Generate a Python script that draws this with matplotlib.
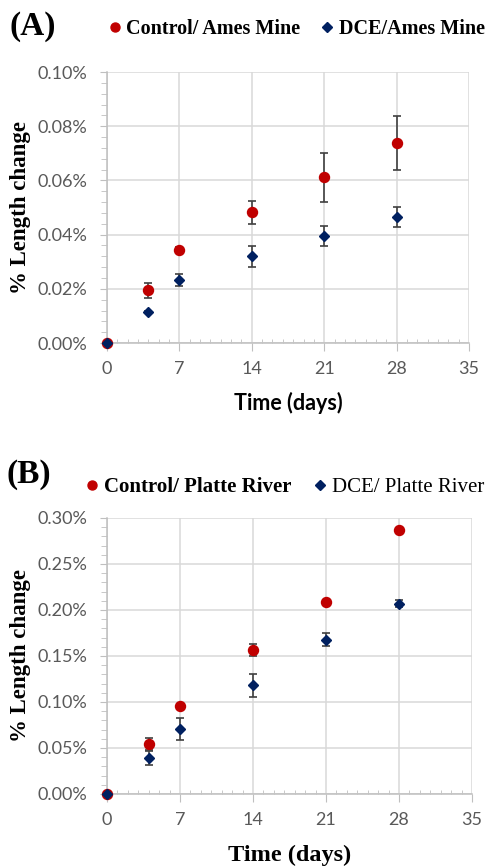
import matplotlib
matplotlib.use("Agg")
import matplotlib.pyplot as plt
from matplotlib.ticker import FuncFormatter, MultipleLocator

# Time points (days)
days = [0, 4, 7, 14, 21, 28]

# (A) Ames Mine aggregate, % length change
ames_control = [0.0, 0.0195, 0.0345, 0.0482, 0.0612, 0.0737]
ames_control_err = [0.0, 0.0028, 0.0008, 0.0041, 0.0090, 0.0100]
ames_dce = [0.0, 0.0115, 0.0234, 0.0320, 0.0394, 0.0465]
ames_dce_err = [0.0, 0.0005, 0.0022, 0.0038, 0.0037, 0.0037]

# (B) Platte River aggregate, % length change
platte_control = [0.0, 0.0545, 0.0953, 0.1560, 0.2087, 0.2873]
platte_control_err = [0.0, 0.0065, 0.0020, 0.0065, 0.0020, 0.0010]
platte_dce = [0.0, 0.0393, 0.0709, 0.1180, 0.1676, 0.2069]
platte_dce_err = [0.0, 0.0076, 0.0122, 0.0129, 0.0069, 0.0040]

x_ticks = [0, 7, 14, 21, 28, 35]

RED = "#c00000"
NAVY = "#002060"
ERR = "#404040"
GRID = "#d9d9d9"
AXIS = "#bfbfbf"
TICKTXT = "#595959"
SERIF = "Liberation Serif"
SANS = "Lato"

fig = plt.figure(figsize=(4.89, 8.68), dpi=100)


def panel(rect, ctrl, ctrl_err, dce, dce_err, ymax, ystep, yminor,
          xlabel_font, xlabel_size, xlabel_pad):
    ax = fig.add_axes(rect)
    ax.errorbar(days, ctrl, yerr=ctrl_err, fmt="o", color=RED, ms=7.2,
                ecolor=ERR, elinewidth=1.2, capsize=3.2, capthick=1.2,
                zorder=3, clip_on=False)
    ax.errorbar(days, dce, yerr=dce_err, fmt="D", color=NAVY, ms=5.2,
                ecolor=ERR, elinewidth=1.2, capsize=3.2, capthick=1.2,
                zorder=4, clip_on=False)
    ax.set_xlim(0, 35)
    ax.set_ylim(0, ymax)
    ax.set_xticks(x_ticks)
    ax.yaxis.set_major_locator(MultipleLocator(ystep))
    ax.yaxis.set_minor_locator(MultipleLocator(yminor))
    ax.xaxis.set_minor_locator(MultipleLocator(1))
    ax.yaxis.set_major_formatter(FuncFormatter(lambda v, p: f"{v:.2f}%"))
    ax.grid(True, which="major", color=GRID, lw=1.1, zorder=0)
    ax.set_axisbelow(True)
    for s in ("top", "right"):
        ax.spines[s].set_visible(False)
    for s in ("left", "bottom"):
        ax.spines[s].set_color(AXIS)
        ax.spines[s].set_linewidth(1.1)
    ax.tick_params(axis="y", which="major", direction="out", length=5,
                   color=AXIS, labelcolor=TICKTXT, labelsize=13, pad=9)
    ax.tick_params(axis="y", which="minor", direction="out", length=4,
                   color=AXIS)
    ax.tick_params(axis="x", which="major", direction="out", length=6,
                   color=AXIS, labelcolor=TICKTXT, labelsize=13, pad=7)
    ax.tick_params(axis="x", which="minor", direction="in", length=3,
                   color=AXIS)
    for lab in ax.get_xticklabels() + ax.get_yticklabels():
        lab.set_fontfamily(SANS)
    ax.set_ylabel("% Length change", family=SERIF, fontweight="bold",
                  fontsize=16.5, labelpad=5)
    ax.set_xlabel("Time (days)", family=xlabel_font, fontweight="bold",
                  fontsize=xlabel_size, labelpad=xlabel_pad)
    return ax


axA = panel([0.2188, 0.6048, 0.7403, 0.3122], ames_control, ames_control_err,
            ames_dce, ames_dce_err, 0.10, 0.02, 0.004, SANS, 15.5, 11)
axB = panel([0.2188, 0.0853, 0.7464, 0.3180], platte_control, platte_control_err,
            platte_dce, platte_dce_err, 0.30, 0.05, 0.01, SERIF, 17.5, 12)

fig.text(0.020, 0.969, "(A)", family=SERIF, fontweight="bold", fontsize=24,
         va="center", ha="left")
fig.text(0.014, 0.453, "(B)", family=SERIF, fontweight="bold", fontsize=24,
         va="center", ha="left")

legA = fig.legend(
    [axA.containers[0][0], axA.containers[1][0]],
    ["Control/ Ames Mine", "DCE/Ames Mine"],
    loc="center left", bbox_to_anchor=(0.225, 0.967), ncol=2, frameon=False,
    prop={"family": SERIF, "weight": "bold", "size": 14.5},
    handlelength=0.5, handletextpad=0.3, columnspacing=1.1, borderpad=0,
    borderaxespad=0, markerscale=0.9)

legB = fig.legend(
    [axB.containers[0][0], axB.containers[1][0]],
    ["Control/ Platte River", "DCE/ Platte River"],
    loc="center left", bbox_to_anchor=(0.178, 0.439), ncol=2, frameon=False,
    prop={"family": SERIF, "weight": "bold", "size": 15},
    handlelength=0.5, handletextpad=0.3, columnspacing=1.15, borderpad=0,
    borderaxespad=0, markerscale=0.9)
legB.get_texts()[1].set_fontweight("normal")

fig.savefig("out.png", dpi=100)
